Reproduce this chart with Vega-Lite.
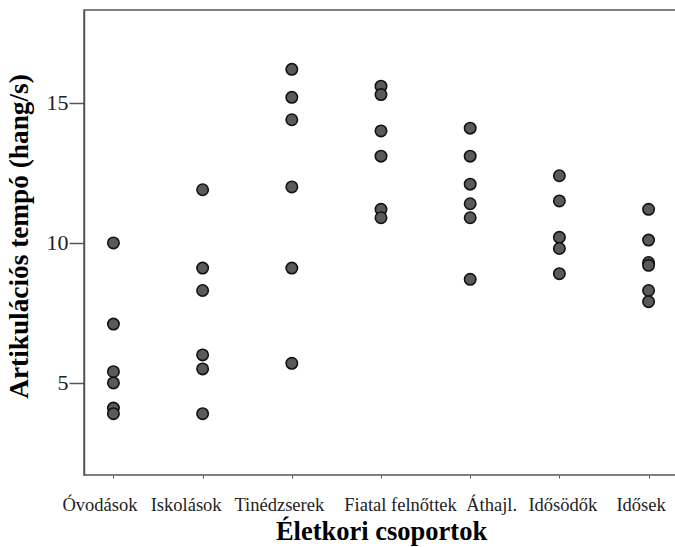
{
  "$schema": "https://vega.github.io/schema/vega-lite/v6.json",
  "autosize": "none",
  "width": 594,
  "height": 465,
  "padding": {"left": 84, "top": 10, "right": 0, "bottom": 72},
  "background": "white",
  "config": {
    "view": {"stroke": "#555555", "strokeWidth": 1.5},
    "font": "Liberation Serif"
  },
  "data": {
    "values": [
      {"csoport": "Óvodások", "tempo": 10.0},
      {"csoport": "Óvodások", "tempo": 7.1},
      {"csoport": "Óvodások", "tempo": 5.4},
      {"csoport": "Óvodások", "tempo": 5.0},
      {"csoport": "Óvodások", "tempo": 4.1},
      {"csoport": "Óvodások", "tempo": 3.9},
      {"csoport": "Iskolások", "tempo": 11.9},
      {"csoport": "Iskolások", "tempo": 9.1},
      {"csoport": "Iskolások", "tempo": 8.3},
      {"csoport": "Iskolások", "tempo": 6.0},
      {"csoport": "Iskolások", "tempo": 5.5},
      {"csoport": "Iskolások", "tempo": 3.9},
      {"csoport": "Tinédzserek", "tempo": 16.2},
      {"csoport": "Tinédzserek", "tempo": 15.2},
      {"csoport": "Tinédzserek", "tempo": 14.4},
      {"csoport": "Tinédzserek", "tempo": 12.0},
      {"csoport": "Tinédzserek", "tempo": 9.1},
      {"csoport": "Tinédzserek", "tempo": 5.7},
      {"csoport": "Fiatal felnőttek", "tempo": 15.6},
      {"csoport": "Fiatal felnőttek", "tempo": 15.3},
      {"csoport": "Fiatal felnőttek", "tempo": 14.0},
      {"csoport": "Fiatal felnőttek", "tempo": 13.1},
      {"csoport": "Fiatal felnőttek", "tempo": 11.2},
      {"csoport": "Fiatal felnőttek", "tempo": 10.9},
      {"csoport": "Áthajl.", "tempo": 14.1},
      {"csoport": "Áthajl.", "tempo": 13.1},
      {"csoport": "Áthajl.", "tempo": 12.1},
      {"csoport": "Áthajl.", "tempo": 11.4},
      {"csoport": "Áthajl.", "tempo": 10.9},
      {"csoport": "Áthajl.", "tempo": 8.7},
      {"csoport": "Idősödők", "tempo": 12.4},
      {"csoport": "Idősödők", "tempo": 11.5},
      {"csoport": "Idősödők", "tempo": 10.2},
      {"csoport": "Idősödők", "tempo": 9.8},
      {"csoport": "Idősödők", "tempo": 8.9},
      {"csoport": "Idősek", "tempo": 11.2},
      {"csoport": "Idősek", "tempo": 10.1},
      {"csoport": "Idősek", "tempo": 9.3},
      {"csoport": "Idősek", "tempo": 9.2},
      {"csoport": "Idősek", "tempo": 8.3},
      {"csoport": "Idősek", "tempo": 7.9}
    ]
  },
  "mark": {"type": "point", "filled": true, "fill": "#5a5a5a", "stroke": "#111111", "strokeWidth": 1.6, "size": 130, "opacity": 1, "clip": true},
  "encoding": {
    "x": {
      "field": "csoport",
      "type": "nominal",
      "sort": ["Óvodások", "Iskolások", "Tinédzserek", "Fiatal felnőttek", "Áthajl.", "Idősödők", "Idősek"],
      "scale": {"type": "point", "padding": 0.33},
      "axis": {
        "title": "Életkori csoportok",
        "titleFont": "Liberation Serif",
        "titleFontSize": 26.5,
        "titleFontWeight": "bold",
        "titleColor": "#000000",
        "titlePadding": 5,
        "labelFont": "Liberation Serif",
        "labelFontSize": 18.5,
        "labelColor": "#222222",
        "labelAngle": 0,
        "labelPadding": 17,
        "labelOverlap": false,
        "labelOffset": {"expr": "datum.value === 'Óvodások' ? -14 : datum.value === 'Iskolások' ? -17 : datum.value === 'Tinédzserek' ? -13 : datum.value === 'Fiatal felnőttek' ? 19 : datum.value === 'Áthajl.' ? 21 : datum.value === 'Idősödők' ? 3 : -8"},
        "tickSize": 3,
        "tickColor": "#555555",
        "domain": false,
        "grid": false
      }
    },
    "y": {
      "field": "tempo",
      "type": "quantitative",
      "scale": {"domain": [1.71, 18.32], "nice": false, "zero": false},
      "axis": {
        "title": "Artikulációs tempó (hang/s)",
        "titleFont": "Liberation Serif",
        "titleFontSize": 27.3,
        "titleFontWeight": "bold",
        "titleColor": "#000000",
        "titlePadding": 13,
        "titleY": 226,
        "labelFont": "Liberation Serif",
        "labelFontSize": 22,
        "labelColor": "#222222",
        "labelPadding": 1,
        "values": [5, 10, 15],
        "tickSize": 15,
        "tickColor": "#555555",
        "tickWidth": 1.5,
        "domainColor": "#555555",
        "domainWidth": 1.5,
        "grid": false
      }
    }
  }
}
